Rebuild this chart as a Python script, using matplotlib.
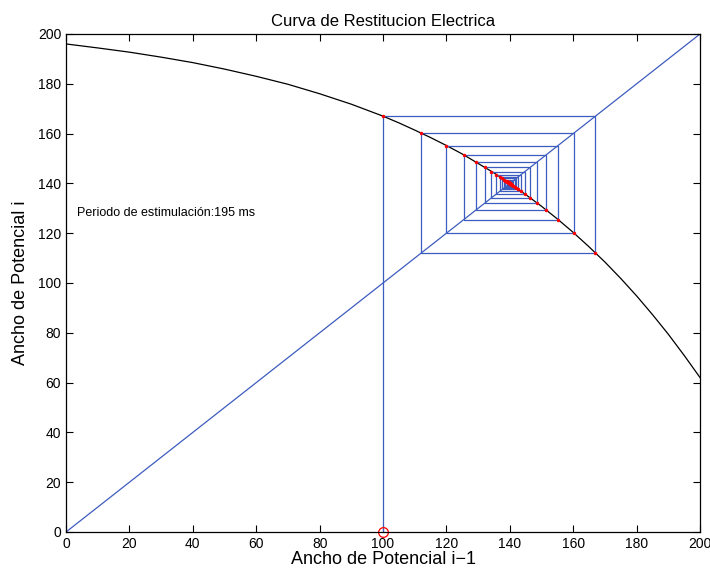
import matplotlib.pyplot as plt
import numpy as np

plt.rcParams["font.family"] = ["Liberation Sans", "DejaVu Sans"]

# curva de restitucion
curva_x = [0, 10, 20, 30, 40, 50, 60, 70, 80, 90, 100, 105,
           110, 115, 120, 125, 130, 135, 140, 145, 150, 155, 160, 165,
           170, 175, 180, 185, 190, 195, 200]
curva_y = [196.0, 194.4, 192.7, 190.7, 188.5, 185.9, 183.0, 179.8, 176.0, 171.8, 167.0, 164.3,
           161.4, 158.4, 155.2, 151.8, 148.0, 144.2, 140.0, 135.5, 130.8, 125.7, 120.3, 114.5,
           108.4, 101.8, 94.8, 87.3, 79.4, 70.9, 62.0]

# iteraciones del mapa (ancho de potencial)
apd = [100, 167, 112.1, 160.2, 120.0, 155.2, 125.4, 151.4, 129.3, 148.5,
       132.1, 146.4, 134.2, 144.7, 135.7, 143.5, 136.8, 142.6, 137.6, 142.0,
       138.2, 141.5, 138.6, 141.1, 139.0, 140.8, 139.2, 140.6, 139.4, 140.5,
       139.6, 140.4, 139.7, 140.3, 139.75, 140.25, 139.8, 140.2, 139.85, 140.15,
       139.88, 140.12, 139.9, 140.1]

diag = [0, 200]
texto = "Periodo de estimulación:195 ms"

azul = "#3d5cbf"

fig = plt.figure(figsize=(7.1, 5.76), dpi=100)
ax = fig.add_axes([0.093, 0.0764, 0.893, 0.8646])

ax.plot(curva_x, curva_y, color="black", lw=0.9)
ax.plot(diag, diag, color=azul, lw=0.9)

# cobweb
px = [apd[0]]
py = [0]
for i in range(len(apd) - 1):
    px += [apd[i], apd[i + 1]]
    py += [apd[i + 1], apd[i + 1]]
ax.plot(px, py, color=azul, lw=0.9)

ax.plot(apd[:-1], apd[1:], ".", color="red", markersize=3)
ax.plot([apd[0]], [0], "o", mfc="none", mec="red", markersize=7, mew=0.9, clip_on=False)

ax.text(3.5, 128, texto, fontsize=9, va="center")

ax.set_xlim(0, 200)
ax.set_ylim(0, 200)
ax.set_xticks(range(0, 201, 20))
ax.set_yticks(range(0, 201, 20))
ax.tick_params(direction="in", top=True, right=True, length=5, labelsize=10, width=0.8)
for s in ax.spines.values():
    s.set_linewidth(0.9)

ax.set_title("Curva de Restitucion Electrica", fontsize=12, pad=6)
ax.set_xlabel("Ancho de Potencial i\u22121", fontsize=13, labelpad=0)
ax.set_ylabel("Ancho de Potencial i", fontsize=13, labelpad=6)

fig.savefig("out.png", dpi=100)
